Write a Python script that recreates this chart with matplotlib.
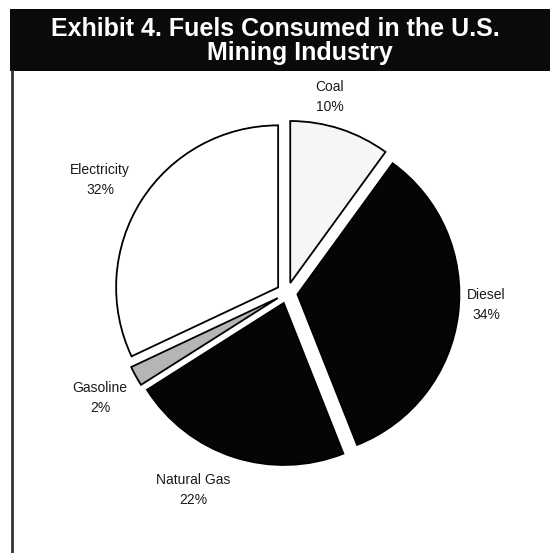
import matplotlib
matplotlib.use('Agg')
import matplotlib.pyplot as plt
import matplotlib.patches as mpatches

plt.rcParams['font.family'] = ['Liberation Sans', 'DejaVu Sans']

# data
fuels = ['Coal', 'Diesel', 'Natural Gas', 'Gasoline', 'Electricity']
shares = [10, 34, 22, 2, 32]
colors = ['#f6f6f6', '#050505', '#050505', '#b5b5b5', '#ffffff']

W, H = 550, 553
fig = plt.figure(figsize=(W / 100, H / 100), dpi=100)
fig.patch.set_facecolor('white')

# whole figure in pixel coords (y up)
ax = fig.add_axes([0, 0, 1, 1])

# title banner
ax.add_patch(mpatches.Rectangle((10, H - 71), W - 10, 62, facecolor='#0a0a0a',
                                edgecolor='none', zorder=1))
ax.text(275, H - 36, 'Exhibit 4. Fuels Consumed in the U.S.', color='white',
        fontsize=18, fontweight='bold', ha='center', va='baseline', zorder=2)
ax.text(300, H - 60, 'Mining Industry', color='white',
        fontsize=18, fontweight='bold', ha='center', va='baseline', zorder=2)

# left frame line
ax.plot([11.5, 11.5], [0, H - 71], color='#333333', lw=2, zorder=1)

# pie (all slices pulled out ~10 px)
cx, cy, R = 287, H - 293, 162
wedges, _ = ax.pie(shares, colors=colors, startangle=90, counterclock=False,
                   center=(cx, cy), radius=R, explode=[10.5] * len(shares),
                   wedgeprops=dict(edgecolor='black', linewidth=1.3),
                   frame=True)
ax.set_xlim(0, W)
ax.set_ylim(0, H)
ax.set_aspect('auto')
ax.axis('off')

# labels (positions in pixels from top-left)
label_pos = [(330, 97), (486, 305), (193, 490), (100, 398), (100, 180)]
for name, val, (lx, ly) in zip(fuels, shares, label_pos):
    ax.text(lx, H - ly, f'{name}\n{val}%', ha='center', va='center',
            fontsize=10, color='#1a1a1a', linespacing=1.55)

plt.savefig('out.png', dpi=100, facecolor=fig.get_facecolor())
plt.close()
